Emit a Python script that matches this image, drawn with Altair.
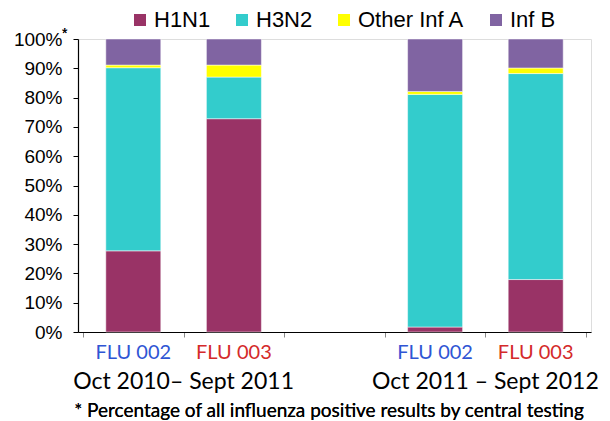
import altair as alt
import pandas as pd

# ---- data ----
studies = ["FLU 002", "FLU 003", "FLU 002", "FLU 003"]
slots = [0.5, 1.5, 3.5, 4.5]
subtypes = ["H1N1", "H3N2", "Other Inf A", "Inf B"]
h1n1 = [27.7, 72.8, 1.7, 17.9]
h3n2 = [62.5, 14.2, 79.4, 70.3]
other_a = [0.9, 4.1, 1.0, 1.9]
inf_b = [8.9, 8.9, 17.9, 9.9]
subtype_colors = ["#993366", "#33CCCC", "#FFFF00", "#8064A2"]
study_names = ["FLU 002", "FLU 003"]
study_colors = ["#2F55D4", "#D42A2A"]
group_labels = ["Oct 2010\u2013 Sept 2011", "Oct 2011 \u2013 Sept 2012"]
group_pos = [1.0, 4.0]
y_ticks = [0, 10, 20, 30, 40, 50, 60, 70, 80, 90, 100]
x_ticks = [0, 1, 2, 3, 4, 5]
footnote = "* Percentage of all influenza positive results by central testing"

series = [h1n1, h3n2, other_a, inf_b]
rows = []
for i, s in enumerate(slots):
    for k, name in enumerate(subtypes):
        rows.append({"slot": s, "study": studies[i], "subtype": name, "k": k, "value": series[k][i]})
df = pd.DataFrame(rows)
df_study = pd.DataFrame({"slot": slots, "study": studies})
df_group = pd.DataFrame({"pos": group_pos, "label": group_labels})

W, H = 513, 293

x_scale = alt.Scale(domain=[0, 5], nice=False, zero=False)

bars = alt.Chart(df).mark_bar(size=55, stroke="white", strokeWidth=0.5).encode(
    x=alt.X("slot:Q", scale=x_scale,
            axis=alt.Axis(values=x_ticks, labels=False, title=None, grid=False,
                          tickColor="#888888", tickSize=5, domainColor="black", domainWidth=1.2)),
    y=alt.Y("value:Q", stack="zero", scale=alt.Scale(domain=[0, 100], nice=False),
            axis=alt.Axis(values=y_ticks, labelExpr="datum.value + '%'", title=None, grid=False,
                          tickSize=5, labelPadding=11, labelFontSize=19, labelFont="Liberation Sans",
                          labelColor="black", domainColor="black", tickColor="black", domainWidth=1.2)),
    color=alt.Color("subtype:N", scale=alt.Scale(domain=subtypes, range=subtype_colors),
                    legend=alt.Legend(orient="none", direction="horizontal", legendX=51, legendY=-30,
                                      title=None, symbolType="square", symbolSize=144,
                                      symbolStrokeWidth=0, labelFont="Liberation Sans",
                                      labelFontSize=22, labelColor="black", columnPadding=20,
                                      labelOffset=3, padding=0)),
    order=alt.Order("k:Q"),
)

study_text = alt.Chart(df_study).mark_text(font="Lato", fontSize=20, baseline="alphabetic").encode(
    x=alt.X("slot:Q", scale=x_scale),
    y=alt.value(H + 27),
    text="study:N",
    color=alt.Color("study:N", scale=alt.Scale(domain=study_names, range=study_colors), legend=None),
)

group_text = alt.Chart(df_group).mark_text(font="Lato", fontSize=23, baseline="alphabetic", color="black").encode(
    x=alt.X("pos:Q", scale=x_scale),
    y=alt.value(H + 57),
    text="label:N",
)

star = alt.Chart(df_group).mark_text(font="Liberation Sans", fontSize=14, color="black", align="left").encode(
    x=alt.value(-16), y=alt.value(-5), text=alt.value("*"),
)

note = alt.Chart(df_group).mark_text(font="Lato", fontSize=19, baseline="alphabetic", color="black").encode(
    x=alt.value(251), y=alt.value(H + 85), text=alt.value(footnote),
)

chart = alt.layer(bars, study_text, group_text, star, note).resolve_scale(color="independent").properties(
    width=W, height=H,
    autosize=alt.AutoSizeParams(type="none"),
    padding={"left": 70, "top": 31, "right": 10, "bottom": 89},
).configure_view(stroke=None).configure(background="white")

chart.save("out.html", embed_options={"renderer": "svg", "actions": False})
